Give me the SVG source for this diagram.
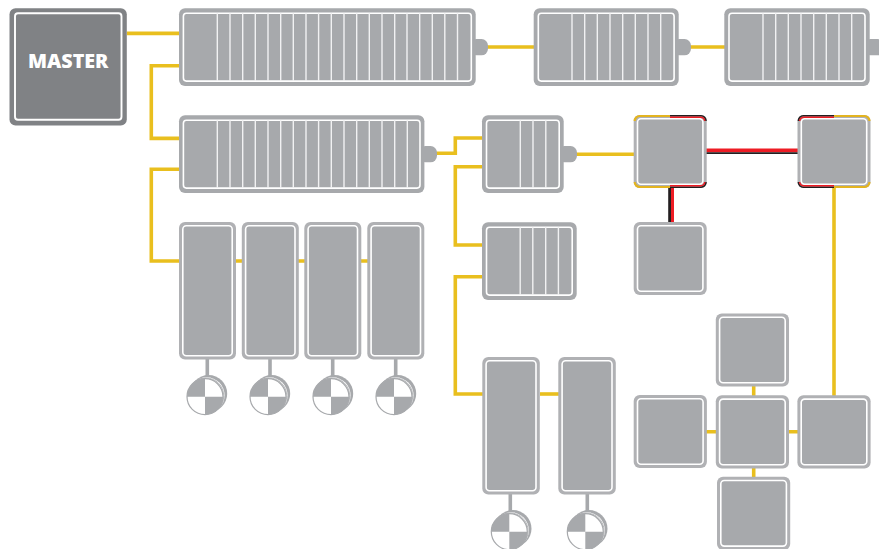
<svg xmlns="http://www.w3.org/2000/svg" xmlns:xlink="http://www.w3.org/1999/xlink" width="879" height="549" viewBox="0 0 879 549">
<style>
.w{fill:none;stroke:#e9bf1e;stroke-width:3.6}
.st{fill:none;stroke:#a7a9ac;stroke-width:3.6}
.o{fill:#a7a9ac}
.i{fill:#a7a9ac;stroke:#fff;stroke-width:1.6}
.d{fill:none;stroke:#f1f1f2;stroke-width:1.4}
.so{fill:#b0b1b4}
.y{fill:none;stroke:#e3b420;stroke-width:2.2}
.k{fill:none;stroke:#231f20;stroke-width:1.6}
.r{fill:none;stroke:#ed1c24;stroke-width:1.5}
</style>
<defs>
<g id="dial">
<circle cx="3.6" cy="-3" r="18.6" fill="#a7a9ac"/>
<circle cx="1.6" cy="-1.4" r="18" fill="#fff"/>
<circle cx="0.9" cy="-0.8" r="17.9" fill="#fff" stroke="#a7a9ac" stroke-width="0.8"/>
<circle r="18" fill="#fff" stroke="#a7a9ac" stroke-width="1.2"/>
<path d="M0 0V-18A18 18 0 0 0 -18 0ZM0 0V18A18 18 0 0 0 18 0Z" fill="#a7a9ac"/>
</g>
</defs>
<g id="connectors">
<path class="w" d="M127 33.4H180"/>
<path class="w" d="M180 65.7H151.3V138.4H180"/>
<path class="w" d="M180 169.3H151.3V261H180"/>
<path class="w" d="M236 261H243M298 261H305M361 261H368"/>
<path class="w" d="M487 47H535M690 47H725"/>
<path class="w" d="M436 153.3H455.3V138H483"/>
<path class="w" d="M483 166.7H455.3V245H483"/>
<path class="w" d="M483 276.7H455.3V394H483"/>
<path class="w" d="M540 394H559"/>
<path class="w" d="M576 154.3H635"/>
<path class="w" d="M834 187V397"/>
<path class="w" d="M753.7 386V396M753.7 468V478M706 431.7H717M788 431.7H798"/>
<path d="M706 150.4H799" fill="none" stroke="#ed1c24" stroke-width="3.8"/>
<path d="M706 153.2H799" fill="none" stroke="#231f20" stroke-width="1.8"/>
<path d="M669.6 187V223" fill="none" stroke="#231f20" stroke-width="2.8"/>
<path d="M672.5 187V223" fill="none" stroke="#ed1c24" stroke-width="3"/>
<path class="st" d="M207.3 358V380M270 358V380M332.7 358V380M395.7 358V380M510.3 493V515M587.3 493V515" stroke-width="3.4"/>
</g>
<g id="master">
<rect x="9.5" y="8.3" width="117.3" height="117.3" rx="6" fill="#808285"/>
<rect x="15" y="13.3" width="106.5" height="106.5" rx="3" fill="#808285" stroke="#fff" stroke-width="1.9"/>
<text x="68.2" y="67.8" text-anchor="middle" font-family="'Open Sans','Liberation Sans',sans-serif" font-weight="800" font-size="19.7" fill="#fff">MASTER</text>
</g>
<g id="panel-1">
<rect class="o" x="179" y="8.3" width="296.7" height="77.7" rx="6"/><rect class="o" x="470" y="39" width="18" height="16.3" rx="6.5"/>
<rect class="i" x="183.4" y="13.2" width="287.9" height="67.9" rx="3"/>
<path class="d" d="M217.3 13V81M230 13V81M242.7 13V81M255.3 13V81M268 13V81M280.7 13V81M293.3 13V81M306 13V81M318.6 13V81M331.3 13V81M344 13V81M356.7 13V81M369.3 13V81M382 13V81M394.7 13V81M407 13V81M419.7 13V81M432.3 13V81M444.8 13V81M457.5 13V81"/>
</g>
<g id="panel-2">
<rect class="o" x="533.7" y="8.3" width="145" height="77.7" rx="6"/><rect class="o" x="673" y="39" width="18" height="16.3" rx="6.5"/>
<rect class="i" x="538.3" y="13.2" width="135.8" height="67.9" rx="3"/>
<path class="d" d="M572 13V81M584.7 13V81M597.3 13V81M610 13V81M622.7 13V81M635.3 13V81M648 13V81M660.7 13V81"/>
</g>
<g id="panel-3">
<rect class="o" x="724.3" y="8.3" width="145.4" height="77.7" rx="6"/><rect class="o" x="864" y="39" width="20" height="16.3" rx="6.5"/>
<rect class="i" x="729" y="13.2" width="136" height="67.9" rx="3"/>
<path class="d" d="M763 13V81M775.7 13V81M788.3 13V81M801 13V81M813.7 13V81M826.3 13V81M839 13V81M851.7 13V81"/>
</g>
<g id="panel-4">
<rect class="o" x="179" y="115.3" width="245.4" height="77.7" rx="6"/><rect class="o" x="419" y="146" width="18" height="16.3" rx="6.5"/>
<rect class="i" x="183.4" y="120.2" width="236.6" height="67.9" rx="3"/>
<path class="d" d="M217.3 120V188M230 120V188M242.7 120V188M255.3 120V188M268 120V188M280.7 120V188M293.3 120V188M306 120V188M318.6 120V188M331.3 120V188M344 120V188M356.7 120V188M369.3 120V188M382 120V188M394.7 120V188M407.3 120V188"/>
</g>
<g id="panel-5">
<rect class="o" x="482" y="115.3" width="81.7" height="77.7" rx="6"/><rect class="o" x="558" y="146" width="19" height="16.3" rx="6.5"/>
<rect class="i" x="486.5" y="120.2" width="72.7" height="67.9" rx="3"/>
<path class="d" d="M520.3 120V188M533 120V188M545.8 120V188"/>
</g>
<g id="panel-6">
<rect class="o" x="482" y="222.3" width="94.7" height="77.7" rx="6"/>
<rect class="i" x="486.5" y="227.2" width="85.7" height="67.9" rx="3"/>
<path class="d" d="M520.2 227V295M532.8 227V295M545.7 227V295M558.4 227V295"/>
</g>
<g id="tall-1"><rect class="so" x="179" y="222" width="57" height="137.5" rx="6"/><rect class="i" x="182.8" y="225.8" width="49.4" height="129.9" rx="3.5"/></g>
<g id="tall-2"><rect class="so" x="241.8" y="222" width="57" height="137.5" rx="6"/><rect class="i" x="245.6" y="225.8" width="49.4" height="129.9" rx="3.5"/></g>
<g id="tall-3"><rect class="so" x="304.3" y="222" width="57" height="137.5" rx="6"/><rect class="i" x="308.1" y="225.8" width="49.4" height="129.9" rx="3.5"/></g>
<g id="tall-4"><rect class="so" x="367.3" y="222" width="57" height="137.5" rx="6"/><rect class="i" x="371.1" y="225.8" width="49.4" height="129.9" rx="3.5"/></g>
<g id="tall-5"><rect class="so" x="482.3" y="357" width="57.5" height="137.5" rx="6"/><rect class="i" x="486.1" y="360.8" width="49.9" height="129.9" rx="3.5"/></g>
<g id="tall-6"><rect class="so" x="558.3" y="357" width="57.5" height="137.5" rx="6"/><rect class="i" x="562.1" y="360.8" width="49.9" height="129.9" rx="3.5"/></g>
<g id="dial-1"><use xlink:href="#dial" href="#dial" x="205" y="396.7"/></g>
<g id="dial-2"><use xlink:href="#dial" href="#dial" x="268" y="396.7"/></g>
<g id="dial-3"><use xlink:href="#dial" href="#dial" x="331" y="396.7"/></g>
<g id="dial-4"><use xlink:href="#dial" href="#dial" x="394" y="396.7"/></g>
<g id="dial-5"><use xlink:href="#dial" href="#dial" x="509.3" y="531.7"/></g>
<g id="dial-6"><use xlink:href="#dial" href="#dial" x="585.3" y="531.7"/></g>
<g id="square-a">
<rect class="so" x="633.7" y="115" width="73" height="73" rx="6"/>
<rect class="i" x="637.5" y="118.8" width="65.4" height="65.4" rx="3.5"/>
<path class="y" d="M634.7 121A5 5 0 0 1 640 116H670M634.7 182A5 5 0 0 0 640 187H670"/>
<path class="k" d="M670 115.8H701A5 5 0 0 1 706 121M670 187.2H701A5 5 0 0 0 706 182"/>
<path class="r" d="M670 117.2H700.5A4.5 4.5 0 0 1 704.8 121M670 185.8H700.5A4.5 4.5 0 0 0 704.8 182"/>
</g>
<g id="square-b">
<rect class="so" x="797.5" y="115" width="73" height="73" rx="6"/>
<rect class="i" x="801.3" y="118.8" width="65.4" height="65.4" rx="3.5"/>
<path class="y" d="M869.5 121A5 5 0 0 0 864.5 116H834M869.5 182A5 5 0 0 1 864.5 187H834"/>
<path class="k" d="M834 115.8H803.5A5 5 0 0 0 798.4 121M834 187.2H803.5A5 5 0 0 1 798.4 182"/>
<path class="r" d="M834 117.2H804A4.5 4.5 0 0 0 799.6 121M834 185.8H804A4.5 4.5 0 0 1 799.6 182"/>
</g>
<g id="square-c"><rect class="so" x="633.7" y="222" width="73" height="73" rx="6"/><rect class="i" x="637.5" y="225.8" width="65.4" height="65.4" rx="3.5"/></g>
<g id="square-d"><rect class="so" x="715.8" y="313.4" width="73.2" height="73.2" rx="6"/><rect class="i" x="719.6" y="317.2" width="65.6" height="65.6" rx="3.5"/></g>
<g id="square-e"><rect class="so" x="633.7" y="394.9" width="73.2" height="73.2" rx="6"/><rect class="i" x="637.5" y="398.7" width="65.6" height="65.6" rx="3.5"/></g>
<g id="square-f"><rect class="so" x="715.8" y="395.3" width="73.2" height="73.2" rx="6"/><rect class="i" x="719.6" y="399.1" width="65.6" height="65.6" rx="3.5"/></g>
<g id="square-g"><rect class="so" x="797.4" y="395.3" width="73.2" height="73.2" rx="6"/><rect class="i" x="801.2" y="399.1" width="65.6" height="65.6" rx="3.5"/></g>
<g id="square-h"><rect class="so" x="717" y="476.7" width="73.2" height="73.2" rx="6"/><rect class="i" x="720.8" y="480.5" width="65.6" height="65.6" rx="3.5"/></g>
</svg>
